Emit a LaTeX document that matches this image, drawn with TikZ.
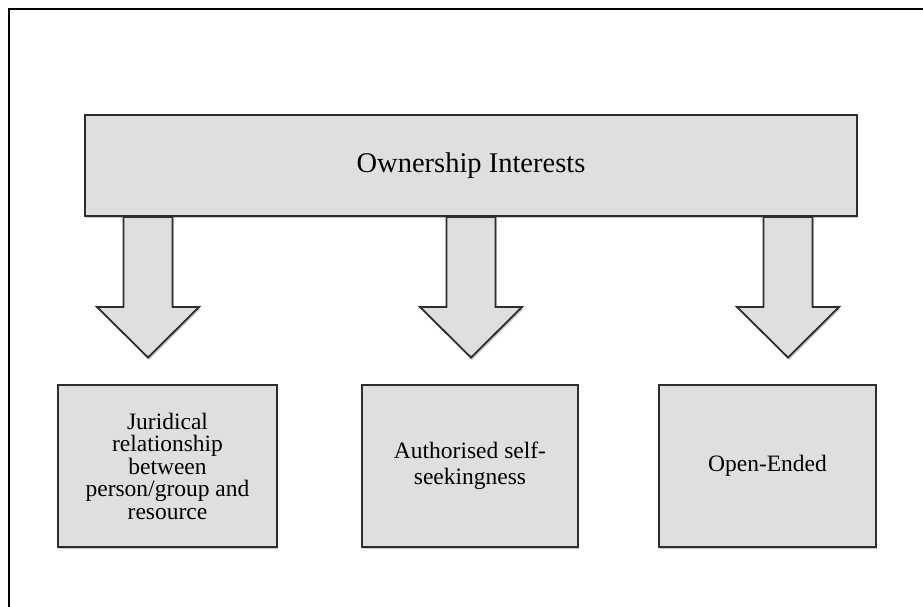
\documentclass[tikz,border=0pt]{standalone}
\usepackage{fontspec}
\setmainfont{Liberation Serif}
\usetikzlibrary{shadows,calc}
\definecolor{boxgray}{HTML}{DFDFDF}
\definecolor{linegray}{HTML}{2E2E2E}
\begin{document}
\begin{tikzpicture}[x=1pt,y=-1pt,
  myshadow/.style={drop shadow={shadow xshift=1.2pt,shadow yshift=-2.2pt,opacity=0.22,fill=black}},
  boxstyle/.style={draw=linegray,line width=1.8pt,fill=boxgray,myshadow,inner sep=0pt,align=center,
    font=\fontsize{23.5}{22.5}\selectfont},
  blockarrow/.style={draw=linegray,line width=1.8pt,fill=boxgray,myshadow,line join=miter}]
\path[use as bounding box] (0,0) rectangle (923,607);
% outer frame (right and bottom edges lie outside the picture)
\draw[line width=1.8pt,black] (9,9) rectangle (940,640);
% top box
\node[boxstyle,minimum width=772pt,minimum height=101pt,
  font=\fontsize{28.5}{30}\selectfont] (top) at (471,165.5) {Ownership Interests};
% lower boxes
\node[boxstyle,minimum width=219pt,minimum height=162pt] (b1) at (167.5,466)
  {Juridical\\relationship\\between\\person/group and\\resource};
\node[boxstyle,minimum width=216pt,minimum height=162pt,
  font=\fontsize{23.5}{26}\selectfont] (b2) at (470,466) {Authorised self-\\seekingness};
\node[boxstyle,minimum width=217pt,minimum height=162pt] (b3) at (767.5,466) {Open-Ended};
% block arrows
\foreach \tx/\nm in {148/t1,471/t2,788/t3}{
  \coordinate (\nm) at (\tx,357.5);
  \draw[blockarrow] ($(top.south -| \nm)+(-24.5,0)$) -- ($(\nm)+(-24.5,-50.5)$) -- ($(\nm)+(-51,-50.5)$)
    -- (\nm) -- ($(\nm)+(51,-50.5)$) -- ($(\nm)+(24.5,-50.5)$) -- ($(top.south -| \nm)+(24.5,0)$) -- cycle;
}
\end{tikzpicture}
\end{document}
